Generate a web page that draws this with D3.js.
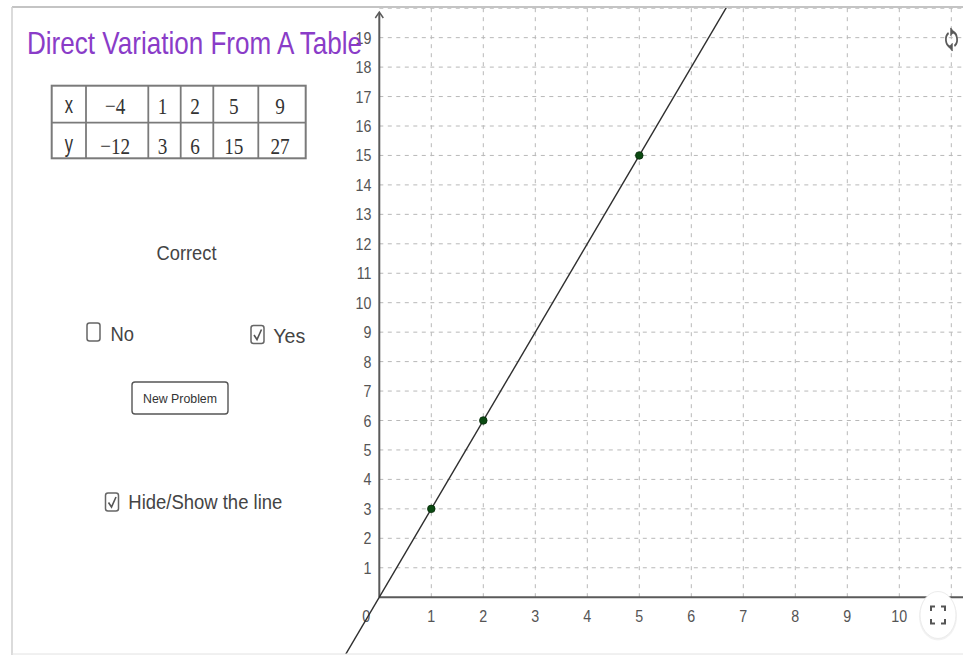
<!DOCTYPE html>
<html>
<head>
<meta charset="utf-8">
<script src="https://cdn.jsdelivr.net/npm/d3@7"></script>
<style>
  html, body { margin: 0; padding: 0; background: #fff; }
  svg { display: block; }
</style>
</head>
<body>
<svg id="chart" width="963" height="655"></svg>
<script>
// Table of values for the direct variation y = k·x
const tableX = [-4, 1, 2, 5, 9];
const tableY = [-12, 3, 6, 15, 27];
const constantK = 3;

// Axis tick labels
const xTickValues = [1, 2, 3, 4, 5, 6, 7, 8, 9, 10];
const yTickValues = [1, 2, 3, 4, 5, 6, 7, 8, 9, 10, 11, 12, 13, 14, 15, 16, 17, 18, 19];
const xGridValues = [1, 2, 3, 4, 5, 6, 7, 8, 9, 10, 11];
const yGridValues = [1, 2, 3, 4, 5, 6, 7, 8, 9, 10, 11, 12, 13, 14, 15, 16, 17, 18, 19, 20];

// Which table points are plotted on the graph
const plottedX = [1, 2, 5];

const W = 963, H = 655;
const svg = d3.select("#chart");

// Graphics view frame
const view = { left: 12, top: 7, right: 963, bottom: 654 };

// Scales: origin at (379.3, 597.2), 52 px per x unit, 29.45 px per y unit
const x = d3.scaleLinear().domain([0, 10]).range([379.3, 379.3 + 520]);
const y = d3.scaleLinear().domain([0, 20]).range([597.2, 597.2 - 589]);

svg.append("defs").append("clipPath").attr("id", "viewClip")
  .append("rect")
  .attr("x", view.left).attr("y", view.top)
  .attr("width", view.right - view.left).attr("height", view.bottom - view.top);

// Helper for text; narrows glyphs horizontally, or fits to a given length
function label(g, tx, ty, str, opts) {
  const o = Object.assign({ size: 16, sx: 0.82, anchor: "start", fill: "#444", family: "'Liberation Sans', Arial, sans-serif", len: null }, opts || {});
  const t = g.append("text")
    .attr("text-anchor", o.anchor)
    .attr("font-family", o.family)
    .attr("font-size", o.size)
    .attr("fill", o.fill)
    .text(str);
  if (o.len) {
    t.attr("x", tx).attr("y", ty)
      .attr("textLength", o.len).attr("lengthAdjust", "spacingAndGlyphs");
  } else {
    t.attr("transform", `translate(${tx},${ty}) scale(${o.sx},1)`);
  }
  return t;
}

// ---- Grid (first quadrant only) ----
const grid = svg.append("g").attr("clip-path", "url(#viewClip)");
grid.selectAll("line.vgrid").data(xGridValues).enter().append("line")
  .attr("x1", d => x(d)).attr("x2", d => x(d))
  .attr("y1", y(0)).attr("y2", view.top)
  .attr("stroke", "#b8b8b8").attr("stroke-width", 1)
  .attr("stroke-dasharray", "4,5");
grid.selectAll("line.hgrid").data(yGridValues).enter().append("line")
  .attr("x1", x(0)).attr("x2", view.right)
  .attr("y1", d => y(d)).attr("y2", d => y(d))
  .attr("stroke", "#b8b8b8").attr("stroke-width", 1)
  .attr("stroke-dasharray", "4,4.5");

// ---- Axes ----
const axes = svg.append("g");
axes.append("line")
  .attr("x1", x(0)).attr("x2", view.right)
  .attr("y1", y(0)).attr("y2", y(0))
  .attr("stroke", "#5a5a5a").attr("stroke-width", 2);
axes.append("line")
  .attr("x1", x(0)).attr("x2", x(0))
  .attr("y1", y(0)).attr("y2", view.top + 6)
  .attr("stroke", "#5a5a5a").attr("stroke-width", 2);
// arrowhead on the y axis
axes.append("path")
  .attr("d", `M${x(0) - 4},${view.top + 11} L${x(0)},${view.top + 5} L${x(0) + 4},${view.top + 11}`)
  .attr("fill", "none").attr("stroke", "#5a5a5a").attr("stroke-width", 1.5);

// tick labels
const tickG = svg.append("g");
xTickValues.forEach(v => label(tickG, x(v), 621.5, String(v), { anchor: "middle", size: 17, sx: 0.84, fill: "#555" }));
label(tickG, x(0) - 13, 621.5, "0", { anchor: "middle", size: 17, sx: 0.84, fill: "#555" });
yTickValues.forEach(v => label(tickG, 371.5, y(v) + 6, String(v), { anchor: "end", size: 17, sx: 0.84, fill: "#555" }));

// ---- Line y = kx ----
const lineG = svg.append("g").attr("clip-path", "url(#viewClip)");
const lineX = [-1, 8];
lineG.append("line")
  .attr("x1", x(lineX[0])).attr("y1", y(constantK * lineX[0]))
  .attr("x2", x(lineX[1])).attr("y2", y(constantK * lineX[1]))
  .attr("stroke", "#2e2e2e").attr("stroke-width", 1.4);

// ---- Points from the table ----
const pts = tableX.map((v, i) => ({ x: v, y: tableY[i] })).filter(p => plottedX.includes(p.x));
lineG.selectAll("circle.pt").data(pts).enter().append("circle")
  .attr("cx", d => x(d.x)).attr("cy", d => y(d.y)).attr("r", 3.8)
  .attr("fill", "#0b4a12").attr("stroke", "#062a09").attr("stroke-width", 0.8);

// ---- Left panel ----
const panel = svg.append("g");

// Table
const colEdges = [51.7, 86, 148.3, 180.7, 213.3, 258.3, 305.7];
const rowEdges = [85.7, 122.7, 158.3];
panel.append("rect")
  .attr("x", colEdges[0]).attr("y", rowEdges[0])
  .attr("width", colEdges[6] - colEdges[0]).attr("height", rowEdges[2] - rowEdges[0])
  .attr("fill", "#fff").attr("stroke", "#7a7a7a").attr("stroke-width", 2);
colEdges.slice(1, -1).forEach(cx => panel.append("line")
  .attr("x1", cx).attr("x2", cx).attr("y1", rowEdges[0]).attr("y2", rowEdges[2])
  .attr("stroke", "#7a7a7a").attr("stroke-width", 1.8));
panel.append("line")
  .attr("x1", colEdges[0]).attr("x2", colEdges[6]).attr("y1", rowEdges[1]).attr("y2", rowEdges[1])
  .attr("stroke", "#7a7a7a").attr("stroke-width", 1.8);

const fmt = v => (v < 0 ? "\u2212" + Math.abs(v) : String(v));
const rowBase = [114, 153.5];
const serif = "'Liberation Serif', 'Times New Roman', serif";
label(panel, (colEdges[0] + colEdges[1]) / 2, rowBase[0] - 1, "x", { anchor: "middle", size: 23, sx: 0.72, fill: "#333" });
label(panel, (colEdges[0] + colEdges[1]) / 2, rowBase[1] - 2, "y", { anchor: "middle", size: 23, sx: 0.72, fill: "#333" });
tableX.forEach((v, i) => label(panel, (colEdges[i + 1] + colEdges[i + 2]) / 2 - 2, rowBase[0], fmt(v),
  { anchor: "middle", size: 24, sx: 0.8, fill: "#333", family: serif }));
tableY.forEach((v, i) => label(panel, (colEdges[i + 1] + colEdges[i + 2]) / 2 - 2, rowBase[1], fmt(v),
  { anchor: "middle", size: 24, sx: 0.8, fill: "#333", family: serif }));

// "Correct" status
label(panel, 156.5, 259.5, "Correct", { size: 20, len: 60, fill: "#444" });

// Checkboxes
function checkbox(cx, cy, checked) {
  panel.append("rect")
    .attr("x", cx).attr("y", cy).attr("width", 13).attr("height", 18).attr("rx", 2.5)
    .attr("fill", "#fff").attr("stroke", "#666").attr("stroke-width", 1.5);
  if (checked) {
    panel.append("path")
      .attr("d", `M${cx + 3},${cy + 9.5} L${cx + 6},${cy + 14} L${cx + 10.5},${cy + 4}`)
      .attr("fill", "none").attr("stroke", "#555").attr("stroke-width", 1.6);
  }
}
checkbox(87, 323, false);
label(panel, 110.5, 340.5, "No", { size: 20, len: 23.5, fill: "#444" });
checkbox(251, 325.5, true);
label(panel, 273.3, 342.5, "Yes", { size: 20, len: 32, fill: "#444" });

// Button
panel.append("rect")
  .attr("x", 132).attr("y", 382).attr("width", 96).attr("height", 32).attr("rx", 3)
  .attr("fill", "#fff").attr("stroke", "#555").attr("stroke-width", 1.4);
label(panel, 143, 403, "New Problem", { size: 12, len: 74, fill: "#333" });

checkbox(105.5, 493, true);
label(panel, 128.3, 508.5, "Hide/Show the line", { size: 20, len: 154, fill: "#444" });

// Title, drawn over the top axis labels
label(panel, 27, 53.5, "Direct Variation From A Table", { size: 32, len: 335, fill: "#8a3cc8" });

// ---- Frame ----
svg.append("line").attr("x1", view.left).attr("x2", W).attr("y1", view.top).attr("y2", view.top)
  .attr("stroke", "#c4c4c4").attr("stroke-width", 2);
svg.append("line").attr("x1", view.left).attr("x2", view.left).attr("y1", view.top).attr("y2", H)
  .attr("stroke", "#cfcfcf").attr("stroke-width", 1.5);
svg.append("line").attr("x1", view.left).attr("x2", W).attr("y1", view.bottom).attr("y2", view.bottom)
  .attr("stroke", "#e2e2e2").attr("stroke-width", 1);

// ---- Refresh icon (top right) ----
const rf = svg.append("g").attr("transform", "translate(951.5,39.5) scale(0.8,1.1)")
  .attr("fill", "none").attr("stroke", "#5a5a5a").attr("stroke-width", 2.2);
const r = 7;
const pt = a => [r * Math.sin(a), -r * Math.cos(a)];
const arcPath = (a0, a1) => {
  const p0 = pt(a0), p1 = pt(a1);
  return `M${p0[0]},${p0[1]} A${r},${r} 0 0 1 ${p1[0]},${p1[1]}`;
};
rf.append("path").attr("d", arcPath(0.25, Math.PI - 0.55));
rf.append("path").attr("d", arcPath(Math.PI + 0.25, 2 * Math.PI - 0.55));
// arrowheads at the start of each arc
rf.append("path").attr("d", "M-1,-10.5 L3,-7 L-1,-3.5 Z").attr("fill", "#5a5a5a").attr("stroke-width", 0.8);
rf.append("path").attr("d", "M1,10.5 L-3,7 L1,3.5 Z").attr("fill", "#5a5a5a").attr("stroke-width", 0.8);

// ---- Fullscreen button (bottom right) ----
const fs = svg.append("g").attr("transform", "translate(938,615)");
fs.append("ellipse").attr("rx", 19).attr("ry", 24).attr("cy", 1.5)
  .attr("fill", "#e9e9e9").attr("opacity", 0.6);
fs.append("ellipse").attr("rx", 18).attr("ry", 23.5)
  .attr("fill", "#fff").attr("stroke", "#ececec").attr("stroke-width", 1);
fs.append("path")
  .attr("d", "M-7,-4 V-8.5 H-3 M3,-8.5 H7 V-4 M7,4 V8.5 H3 M-3,8.5 H-7 V4")
  .attr("fill", "none").attr("stroke", "#555").attr("stroke-width", 2);
</script>
</body>
</html>
